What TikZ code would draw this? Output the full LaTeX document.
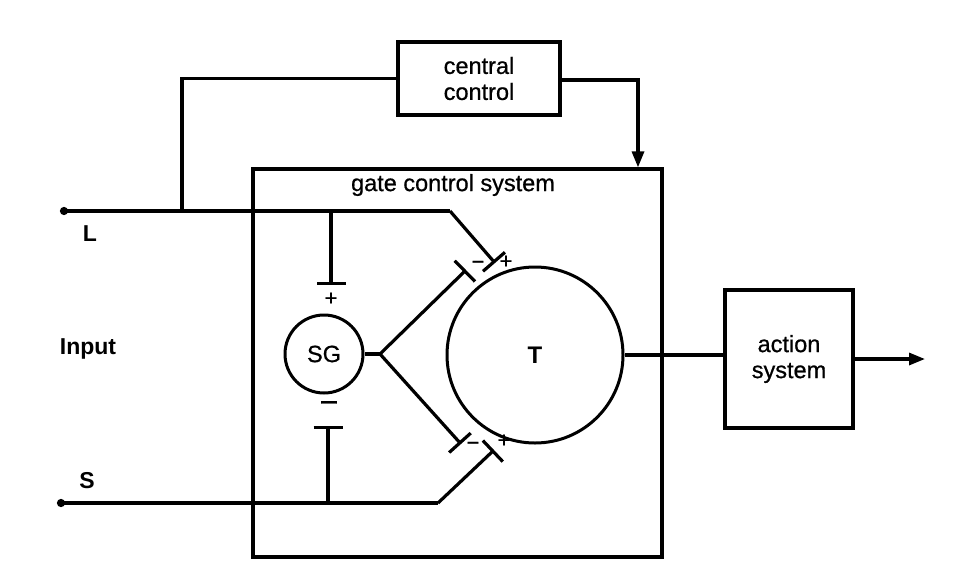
\documentclass[tikz,border=0pt]{standalone}
\usepackage{fontspec}
\setmainfont{Liberation Sans}
\newfontfamily\medfont[FakeBold=0.7]{Liberation Sans}
\usetikzlibrary{arrows.meta}
\begin{document}
\begin{tikzpicture}[x=1pt,y=-1pt,line width=3.2pt,line join=miter,
  box/.style={draw,line width=3.2pt,inner sep=0pt,align=center,font=\medfont\fontsize{23.5}{26}\selectfont},
  cell/.style={draw,circle,line width=3pt,inner sep=0pt,font=\medfont\fontsize{23.5}{26}\selectfont},
  lbl/.style={inner sep=0pt,font=\bfseries\fontsize{23}{26}\selectfont},
  sgn/.style={inner sep=0pt,font=\medfont\fontsize{22}{22}\selectfont},
  bigsgn/.style={inner sep=0pt,font=\medfont\fontsize{32}{32}\selectfont},
  inhib/.style={-{Bar[width=29pt]}},
  fibre/.style={{Circle[length=8pt]}-},
  flow/.style={-{Triangle[length=16pt,width=12pt]}}]
\useasboundingbox (0,0) rectangle (958,563);
\fill[white] (0,0) rectangle (958,563);
% boxes
\node[box,minimum width=162pt,minimum height=73pt] (cc) at (479,78.5) {central\\control};
\node[draw,line width=3.2pt,minimum width=409pt,minimum height=388pt,inner sep=0pt] (gcs) at (457.5,363) {};
\node[inner sep=0pt,font=\medfont\fontsize{23.5}{26}\selectfont] (gcsl) at (453,185) {gate control system};
\node[box,minimum width=128pt,minimum height=138pt] (as) at (789,359) {action\\system};
\node[cell,minimum size=78pt] (sg) at (324,354) {SG};
\node[cell,minimum size=176pt,font=\bfseries\fontsize{24}{25}\selectfont] (t) at (535,355) {T};
% labels
\node[lbl] (lL) at (90,234) {L};
\node[lbl] (lin) at (88,349) {Input};
\node[lbl] (lS) at (87,481) {S};
% coordinates
\coordinate (Lst) at (60,211);
\coordinate (Lj) at (182,211);
\coordinate (Lv) at (331,211);
\coordinate (Lb) at (450,211);
\coordinate (Le) at (495,263);
\coordinate (sgtop) at (331,285);
\coordinate (Sst) at (57,503);
\coordinate (Sv) at (328,503);
\coordinate (Sb) at (438,503);
\coordinate (Se) at (494,450);
\coordinate (sgbot) at (328,426);
\coordinate (fork) at (380,354);
\coordinate (up) at (466,270);
\coordinate (lo) at (461,444);
\coordinate (ccin) at (638,80);
\coordinate (out) at (925,359);
% L fibre
\draw[fibre] (Lst) -- (Lb);
\draw[inhib] (Lb) -- (Le);
\draw (Lj) |- (cc.west);
\draw[inhib] (Lv) -- (sgtop);
% S fibre
\draw[fibre] (Sst) -- (Sb);
\draw[inhib] (Sb) -- (Se);
\draw[inhib] (Sv) -- (sgbot);
% SG outputs
\draw (sg.east) -- (fork);
\draw[inhib] (fork) -- (up);
\draw[inhib] (fork) -- (lo);
% central control to gate
\draw[flow] (cc.east |- ccin) -- (ccin) -- (ccin |- gcs.north);
% T to action system
\draw (t.east) -- (t.east -| as.west);
\draw[flow] (as.east) -- (out);
% signs
\node[sgn] (p1) at (331,299) {+};
\node[bigsgn] (m1) at (329,407) {−};
\node[sgn] (m2) at (478,265) {−};
\node[sgn] (p2) at (506,262) {+};
\node[sgn] (m3) at (473,446) {−};
\node[sgn] (p3) at (504,441) {+};
\end{tikzpicture}
\end{document}
